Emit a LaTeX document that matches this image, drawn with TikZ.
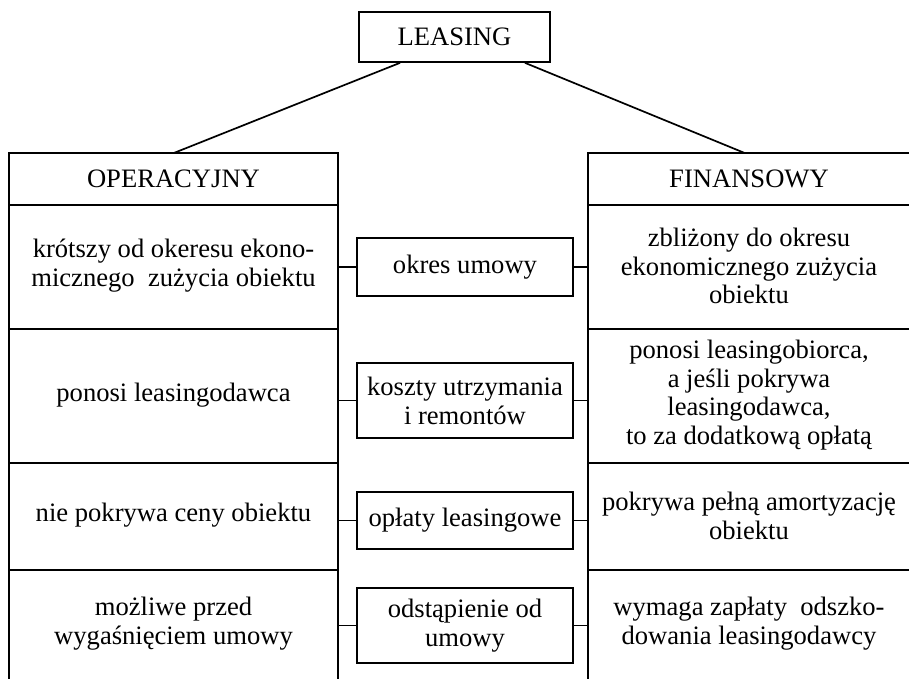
\documentclass[tikz,border=0pt]{standalone}
\usepackage{fontspec}
\setmainfont{Liberation Serif}
\begin{document}
\begin{tikzpicture}[x=1pt,y=-1pt,line width=1.7pt,
  txt/.style={inner sep=0pt,align=center,font=\fontsize{26.6}{28.8}\selectfont},
  lcell/.style={txt,minimum width=327pt},
  rcell/.style={txt,minimum width=320pt},
  midbox/.style={txt,draw,minimum width=216pt}]
\useasboundingbox (0,0) rectangle (909,679);
% top
\node[txt,draw,minimum width=191pt,minimum height=50pt] (top) at (454.5,37) {LEASING};
% left column
\node[lcell,minimum height=50pt] (lh) at (173.5,179) {OPERACYJNY};
\node[lcell,minimum height=124pt] (l1) at (173.5,266) {krótszy od okeresu ekono-\\micznego\ \ zużycia obiektu};
\node[lcell,minimum height=134pt] (l2) at (173.5,395) {ponosi leasingodawca};
\node[lcell,minimum height=107pt] (l3) at (173.5,515.5) {nie pokrywa ceny obiektu};
\node[lcell,minimum height=110pt] (l4) at (173.5,624) {możliwe przed\\wygaśnięciem umowy};
% right column
\node[rcell,minimum height=50pt] (rh) at (749,179) {FINANSOWY};
\node[rcell,minimum height=124pt] (r1) at (749,266) {zbliżony do okresu\\ekonomicznego zużycia\\obiektu};
\node[rcell,minimum height=134pt] (r2) at (749,395) {ponosi leasingobiorca,\\a jeśli pokrywa\\leasingodawca,\\to za dodatkową opłatą};
\node[rcell,minimum height=107pt] (r3) at (749,515.5) {pokrywa pełną amortyzację\\obiektu};
\node[rcell,minimum height=110pt] (r4) at (749,624) {wymaga zapłaty\ \ odszko-\\dowania leasingodawcy};
% middle boxes
\node[midbox,minimum height=58pt] (m1) at (465,267) {okres umowy};
\node[midbox,minimum height=75pt] (m2) at (465,400.5) {koszty utrzymania\\i remontów};
\node[midbox,minimum height=57pt] (m3) at (465,520.5) {opłaty leasingowe};
\node[midbox,minimum height=75pt] (m4) at (465,625.5) {odstąpienie od\\umowy};
% frames
\draw (l4.south west) |- (lh.north east) -- (l4.south east);
\draw (lh.south west) -- (lh.south east);
\draw (l1.south west) -- (l1.south east);
\draw (l2.south west) -- (l2.south east);
\draw (l3.south west) -- (l3.south east);
\draw (r4.south west) |- (rh.north east);
\draw (rh.south west) -- (rh.south east);
\draw (r1.south west) -- (r1.south east);
\draw (r2.south west) -- (r2.south east);
\draw (r3.south west) -- (r3.south east);
% top connectors
\draw ([xshift=-54.5pt]top.south) -- (lh.north);
\draw ([xshift=70.5pt]top.south) -- ([xshift=-4pt]rh.north);
% middle connectors
\foreach \i in {1,2,3,4}{
  \draw (l\i.east |- m\i.west) -- (m\i.west);
  \draw (m\i.east) -- (r\i.west |- m\i.east);
}
\end{tikzpicture}
\end{document}
